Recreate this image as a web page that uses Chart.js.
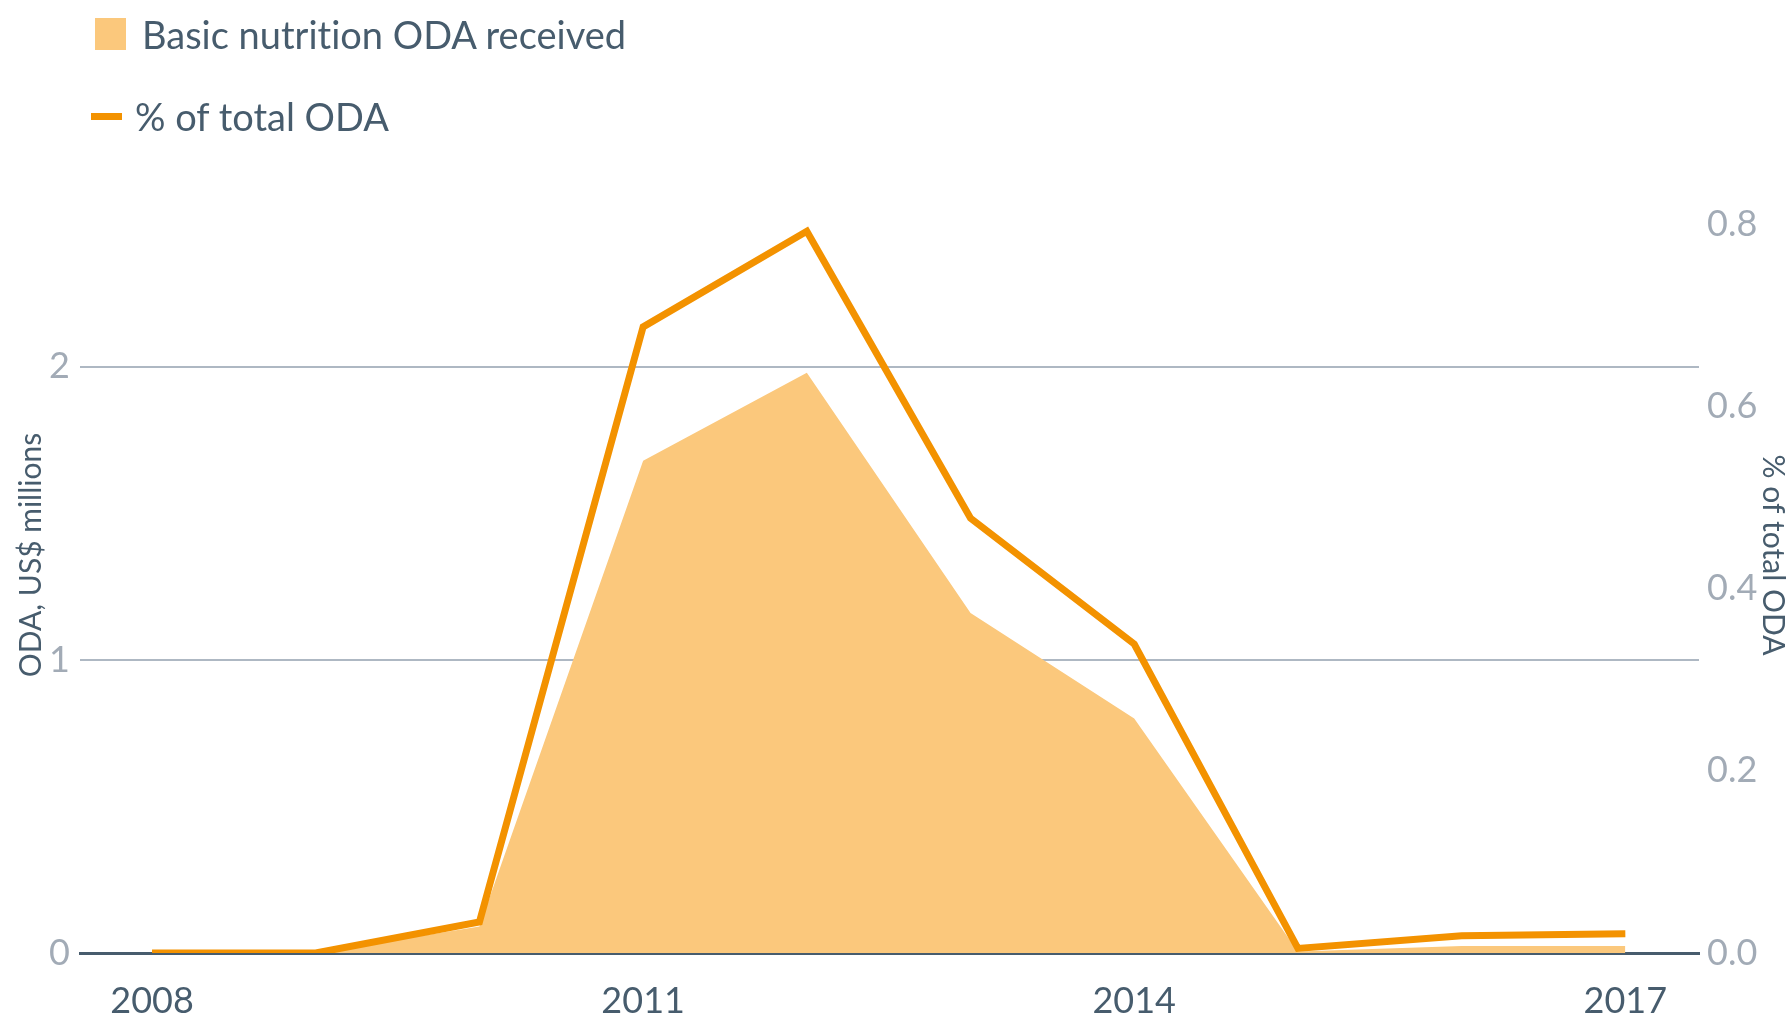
<!DOCTYPE html>
<html>
<head>
<meta charset="utf-8">
<script src="https://cdn.jsdelivr.net/npm/chart.js@4/dist/chart.umd.min.js"></script>
<style>
  body { margin: 0; background: #fff; font-family: Lato, sans-serif; }
  #wrap { position: relative; width: 1792px; height: 1018px; }
  #wrap canvas { position: absolute; left: 0; top: 0; }
  .legend-item { position: absolute; display: flex; align-items: center; color: #475c6d; font-size: 38px; font-variant-ligatures: none; }
  .swatch { display: inline-block; }
</style>
</head>
<body>
<div id="wrap">
  <canvas id="odaChart" width="1792" height="1018"></canvas>
  <div class="legend-item" style="left:95px; top:14px; height:40px;">
    <span class="swatch" style="width:31px; height:32px; background:#fbc87c; margin-right:16px;"></span>
    <span>Basic nutrition ODA received</span>
  </div>
  <div class="legend-item" style="left:91px; top:96px; height:40px;">
    <span class="swatch" style="width:31px; height:7px; background:#f39200; margin-right:13px;"></span>
    <span>% of total ODA</span>
  </div>
</div>
<script>
const years = [2008, 2009, 2010, 2011, 2012, 2013, 2014, 2015, 2016, 2017];
const odaReceived = [0, 0, 0.09, 1.68, 1.98, 1.16, 0.80, 0.005, 0.024, 0.024];
const pctOfTotal = [0, 0, 0.034, 0.687, 0.792, 0.477, 0.339, 0.005, 0.019, 0.021];
const yearTicks = [2008, 2011, 2014, 2017];
const odaTicks = [0, 1, 2];
const pctTicks = [0, 0.2, 0.4, 0.6, 0.8];

const slate = "#475c6d";
const mutedGrey = "#a2abb6";

const toPoints = vals => vals.map((v, i) => ({ x: years[i], y: v }));

new Chart(document.getElementById("odaChart"), {
  type: "line",
  data: {
    datasets: [
      {
        label: "% of total ODA",
        data: toPoints(pctOfTotal),
        yAxisID: "y1",
        borderColor: "#f39200",
        borderWidth: 7,
        pointRadius: 0,
        fill: false,
        tension: 0,
        order: 0
      },
      {
        label: "Basic nutrition ODA received",
        data: toPoints(odaReceived),
        yAxisID: "y",
        backgroundColor: "#fbc87c",
        borderWidth: 0,
        pointRadius: 0,
        fill: "origin",
        tension: 0,
        order: 1
      }
    ]
  },
  options: {
    responsive: false,
    animation: false,
    layout: { padding: { top: 157, left: 0, right: 0, bottom: 0 } },
    plugins: { legend: { display: false }, tooltip: { enabled: false } },
    scales: {
      x: {
        type: "linear",
        min: 2007.56,
        max: 2017.45,
        z: 1,
        afterBuildTicks: axis => { axis.ticks = yearTicks.map(v => ({ value: v })); },
        afterFit: axis => { axis.height = 65; },
        grid: { display: false, drawTicks: false },
        border: { display: true, color: slate, width: 3 },
        ticks: {
          color: slate,
          padding: 27,
          maxRotation: 0,
          font: { family: "Lato", size: 36 },
          callback: v => String(v)
        }
      },
      y: {
        position: "left",
        min: 0,
        max: 2.716,
        afterBuildTicks: axis => { axis.ticks = odaTicks.map(v => ({ value: v })); },
        afterFit: axis => { axis.width = 80; },
        grid: {
          drawTicks: false,
          lineWidth: 2,
          color: ctx => (ctx.tick && ctx.tick.value === 0 ? "rgba(0,0,0,0)" : "#aeb8c3")
        },
        border: { display: false },
        ticks: {
          color: mutedGrey,
          padding: 10,
          font: { family: "Lato", size: 36 },
          callback: v => String(v)
        },
        title: {
          display: true,
          text: "ODA, US$ millions",
          color: slate,
          padding: { top: 13, bottom: 0 },
          font: { family: "Lato", size: 30, lineHeight: 1.2 }
        }
      },
      y1: {
        position: "right",
        min: 0,
        max: 0.8734,
        afterBuildTicks: axis => { axis.ticks = pctTicks.map(v => ({ value: v })); },
        afterFit: axis => { axis.width = 93; },
        grid: { display: false, drawTicks: false },
        border: { display: false },
        ticks: {
          color: mutedGrey,
          padding: 8,
          font: { family: "Lato", size: 36 },
          callback: v => v.toFixed(1)
        },
        title: {
          display: true,
          text: "% of total ODA",
          color: slate,
          padding: { top: 1, bottom: 0 },
          font: { family: "Lato", size: 30, lineHeight: 1.2 }
        }
      }
    }
  }
});
</script>
</body>
</html>
